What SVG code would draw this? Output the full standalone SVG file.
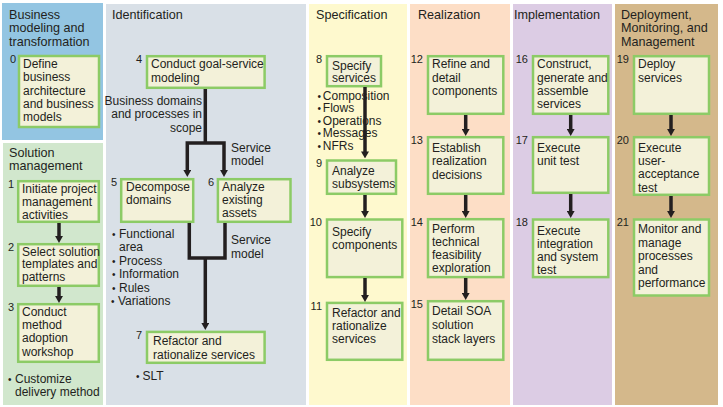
<svg xmlns="http://www.w3.org/2000/svg" width="723" height="407" viewBox="0 0 723 407">
<defs>
<style>
text{font-family:"Liberation Sans",Arial,sans-serif;fill:#231f20}
.t{font-size:12.6px}
.n{font-size:12px}
.num{font-size:11px;text-anchor:end}
.lbl{font-size:12px}
.bu{font-size:10px}
.box{fill:#f3f1d9;stroke:#8ccb66;stroke-width:2.5}
.c{fill:none;stroke:#231f20;stroke-width:3.5;stroke-linejoin:miter}
</style>
<marker id="ah" viewBox="0 0 10 10" refX="3" refY="5" markerWidth="7" markerHeight="8" markerUnits="userSpaceOnUse" preserveAspectRatio="none" orient="auto-start-reverse"><path d="M0,0 L10,5 L0,10 z" fill="#231f20"/></marker>
</defs>
<rect width="723" height="407" fill="#ffffff"/>
<g id="lanes">
<rect x="2" y="3" width="101" height="137" fill="#93c5e2"/>
<rect x="3" y="143" width="100" height="262" fill="#d1e7cd"/>
<rect x="106" y="4" width="200" height="401" fill="#d9e0e7"/>
<rect x="309" y="4" width="98" height="401" fill="#fef9ce"/>
<rect x="410" y="4" width="100" height="401" fill="#fddec6"/>
<rect x="513" y="4" width="99" height="401" fill="#dccce4"/>
<rect x="615" y="4" width="103" height="401" fill="#d4b88b"/>
<text class="t"><tspan x="9" y="18.5">Business</tspan><tspan x="9" y="32.2">modeling and</tspan><tspan x="9" y="46">transformation</tspan></text>
<text class="t"><tspan x="9" y="156.5">Solution</tspan><tspan x="9" y="170.2">management</tspan></text>
<text class="t" x="112" y="19">Identification</text>
<text class="t" x="316" y="19">Specification</text>
<text class="t" x="418" y="19">Realization</text>
<text class="t" x="514" y="19">Implementation</text>
<text class="t"><tspan x="621" y="18.5">Deployment,</tspan><tspan x="621" y="32">Monitoring, and</tspan><tspan x="621" y="45.5">Management</tspan></text>
</g>
<g id="n0"><rect class="box" x="19" y="56" width="80" height="71"/><text class="num" x="16" y="63">0</text>
<text class="n"><tspan x="23" y="68">Define</tspan><tspan x="23" y="81.3">business</tspan><tspan x="23" y="94.6">architecture</tspan><tspan x="23" y="107.9">and business</tspan><tspan x="23" y="121">models</tspan></text></g>
<g id="n1"><rect class="box" x="18.2" y="181.2" width="80.6" height="40.6"/><text class="num" x="14" y="188">1</text>
<text class="n"><tspan x="22" y="193.3">Initiate project</tspan><tspan x="22" y="206.3">management</tspan><tspan x="22" y="219.3">activities</tspan></text></g>
<g id="n2"><rect class="box" x="18.2" y="244.2" width="80.6" height="41.6"/><text class="num" x="14" y="251">2</text>
<text class="n"><tspan x="22" y="255.5">Select solution</tspan><tspan x="22" y="268.3">templates and</tspan><tspan x="22" y="281">patterns</tspan></text></g>
<g id="n3"><rect class="box" x="18.2" y="304.2" width="80.6" height="57.6"/><text class="num" x="14" y="311">3</text>
<text class="n"><tspan x="22" y="316">Conduct</tspan><tspan x="22" y="329.2">method</tspan><tspan x="22" y="342.4">adoption</tspan><tspan x="22" y="355.6">workshop</tspan></text></g>
<g id="b0"><text class="lbl" x="8" y="382.7"><tspan class="bu">•</tspan><tspan x="15">Customize</tspan></text><text class="lbl" x="15" y="395.7">delivery method</text></g>
<g id="n4"><rect class="box" x="147" y="56.2" width="117.6" height="31.6"/><text class="num" x="142" y="63">4</text>
<text class="n"><tspan x="151" y="68.3">Conduct goal-service</tspan><tspan x="151" y="81.7">modeling</tspan></text></g>
<g id="n5"><rect class="box" x="121.2" y="179.2" width="72" height="42.6"/><text class="num" x="117" y="186">5</text>
<text class="n"><tspan x="126" y="190.7">Decompose</tspan><tspan x="126" y="204">domains</tspan></text></g>
<g id="n6"><rect class="box" x="217.9" y="179.2" width="72.6" height="42.6"/><text class="num" x="214" y="186">6</text>
<text class="n"><tspan x="222" y="190.7">Analyze</tspan><tspan x="222" y="204">existing</tspan><tspan x="222" y="217.3">assets</tspan></text></g>
<g id="b5"><text class="lbl" x="112" y="238"><tspan class="bu">•</tspan><tspan x="119">Functional</tspan></text><text class="lbl" x="119" y="251">area</text>
<text class="lbl" x="112" y="264.5"><tspan class="bu">•</tspan><tspan x="119">Process</tspan></text>
<text class="lbl" x="112" y="278"><tspan class="bu">•</tspan><tspan x="119">Information</tspan></text>
<text class="lbl" x="112" y="291.5"><tspan class="bu">•</tspan><tspan x="119">Rules</tspan></text>
<text class="lbl" x="111" y="305"><tspan class="bu">•</tspan><tspan x="118">Variations</tspan></text></g>
<g id="n7"><rect class="box" x="147" y="331.9" width="117.6" height="30.9"/><text class="num" x="142" y="339">7</text>
<text class="n"><tspan x="153" y="345">Refactor and</tspan><tspan x="153" y="358.7">rationalize services</tspan></text></g>
<g id="b7"><text class="lbl" x="136" y="380"><tspan class="bu">•</tspan><tspan x="142.5">SLT</tspan></text></g>
<g id="lab"><text class="lbl" text-anchor="end"><tspan x="202" y="104.5">Business domains</tspan><tspan x="202" y="118.3">and processes in</tspan><tspan x="202" y="132">scope</tspan></text>
<text class="lbl"><tspan x="231" y="151.5">Service</tspan><tspan x="231" y="165">model</tspan></text>
<text class="lbl"><tspan x="231" y="244.3">Service</tspan><tspan x="231" y="257.7">model</tspan></text></g>
<g id="n8"><rect class="box" x="327" y="56.2" width="54" height="30"/><text class="num" x="322" y="63">8</text>
<text class="n"><tspan x="332" y="69.5">Specify</tspan><tspan x="332" y="82">services</tspan></text></g>
<g id="b8"><text class="lbl" x="317.5" y="99.5"><tspan class="bu">•</tspan><tspan x="322.8">Composition</tspan></text>
<text class="lbl" x="317.5" y="112"><tspan class="bu">•</tspan><tspan x="322.8">Flows</tspan></text>
<text class="lbl" x="317.5" y="124.5"><tspan class="bu">•</tspan><tspan x="322.8">Operations</tspan></text>
<text class="lbl" x="317.5" y="137"><tspan class="bu">•</tspan><tspan x="322.8">Messages</tspan></text>
<text class="lbl" x="317.5" y="149.5"><tspan class="bu">•</tspan><tspan x="322.8">NFRs</tspan></text></g>
<g id="n9"><rect class="box" x="327" y="160.5" width="69" height="33.3"/><text class="num" x="322" y="167">9</text>
<text class="n"><tspan x="332" y="174.5">Analyze</tspan><tspan x="332" y="187.7">subsystems</tspan></text></g>
<g id="n10"><rect class="box" x="327" y="219.5" width="75.3" height="57.6"/><text class="num" x="322" y="226">10</text>
<text class="n"><tspan x="332" y="235.7">Specify</tspan><tspan x="332" y="248.5">components</tspan></text></g>
<g id="n11"><rect class="box" x="327" y="302.9" width="75.3" height="56.9"/><text class="num" x="322" y="309.5">11</text>
<text class="n"><tspan x="332" y="317">Refactor and</tspan><tspan x="332" y="330.2">rationalize</tspan><tspan x="332" y="343.4">services</tspan></text></g>
<g id="n12"><rect class="box" x="428" y="56.2" width="75.3" height="57.6"/><text class="num" x="423" y="63">12</text>
<text class="n"><tspan x="432" y="68.3">Refine and</tspan><tspan x="432" y="81.5">detail</tspan><tspan x="432" y="94.7">components</tspan></text></g>
<g id="n13"><rect class="box" x="428" y="137.2" width="75.3" height="56.6"/><text class="num" x="423" y="144">13</text>
<text class="n"><tspan x="432" y="151.5">Establish</tspan><tspan x="432" y="165">realization</tspan><tspan x="432" y="178.5">decisions</tspan></text></g>
<g id="n14"><rect class="box" x="428" y="219.2" width="75.3" height="57.9"/><text class="num" x="423" y="226">14</text>
<text class="n"><tspan x="432" y="232.5">Perform</tspan><tspan x="432" y="245.7">technical</tspan><tspan x="432" y="258.9">feasibility</tspan><tspan x="432" y="272.1">exploration</tspan></text></g>
<g id="n15"><rect class="box" x="428" y="301.2" width="75.3" height="58.6"/><text class="num" x="423" y="308">15</text>
<text class="n"><tspan x="432" y="315">Detail SOA</tspan><tspan x="432" y="328.8">solution</tspan><tspan x="432" y="342.5">stack layers</tspan></text></g>
<g id="n16"><rect class="box" x="533" y="56.2" width="75.3" height="57.6"/><text class="num" x="528" y="63">16</text>
<text class="n"><tspan x="537" y="68.3">Construct,</tspan><tspan x="537" y="81.6">generate and</tspan><tspan x="537" y="94.9">assemble</tspan><tspan x="537" y="108.2">services</tspan></text></g>
<g id="n17"><rect class="box" x="533" y="137.2" width="75.3" height="55.6"/><text class="num" x="528" y="144">17</text>
<text class="n"><tspan x="537" y="151.7">Execute</tspan><tspan x="537" y="165">unit test</tspan></text></g>
<g id="n18"><rect class="box" x="533" y="219.5" width="75.3" height="57.6"/><text class="num" x="528" y="226">18</text>
<text class="n"><tspan x="537" y="235">Execute</tspan><tspan x="537" y="248">integration</tspan><tspan x="537" y="261">and system</tspan><tspan x="537" y="274">test</tspan></text></g>
<g id="n19"><rect class="box" x="634" y="56.2" width="75" height="57.6"/><text class="num" x="629" y="63">19</text>
<text class="n"><tspan x="638" y="68.3">Deploy</tspan><tspan x="638" y="81.7">services</tspan></text></g>
<g id="n20"><rect class="box" x="634" y="137.2" width="75" height="57.6"/><text class="num" x="629" y="144">20</text>
<text class="n"><tspan x="638" y="151.7">Execute</tspan><tspan x="638" y="165">user-</tspan><tspan x="638" y="178.3">acceptance</tspan><tspan x="638" y="191.6">test</tspan></text></g>
<g id="n21"><rect class="box" x="634" y="219.5" width="75" height="76"/><text class="num" x="629" y="226">21</text>
<text class="n"><tspan x="638" y="233.3">Monitor and</tspan><tspan x="638" y="246.8">manage</tspan><tspan x="638" y="260.3">processes</tspan><tspan x="638" y="273.8">and</tspan><tspan x="638" y="287.3">performance</tspan></text></g>
<g id="connectors">
<path class="c" d="M59,223 V238" marker-end="url(#ah)"/>
<path class="c" d="M59,287 V298" marker-end="url(#ah)"/>
<path class="c" d="M205.3,89 V143"/>
<path class="c" d="M187.3,172 V143 H224 V172" marker-start="url(#ah)" marker-end="url(#ah)"/>
<path class="c" d="M189.3,223 V258 H225 V223"/>
<path class="c" d="M205.3,258 V325" marker-end="url(#ah)"/>
<path class="c" d="M365,87 V153.5" marker-end="url(#ah)"/>
<path class="c" d="M365,195 V213" marker-end="url(#ah)"/>
<path class="c" d="M365,278 V297" marker-end="url(#ah)"/>
<path class="c" d="M465.7,115 V131" marker-end="url(#ah)"/>
<path class="c" d="M465.7,195 V213" marker-end="url(#ah)"/>
<path class="c" d="M465.7,278 V295" marker-end="url(#ah)"/>
<path class="c" d="M570.7,115 V131" marker-end="url(#ah)"/>
<path class="c" d="M570.7,194 V213" marker-end="url(#ah)"/>
<path class="c" d="M671,115 V131" marker-end="url(#ah)"/>
<path class="c" d="M671,196 V213" marker-end="url(#ah)"/>
</g>
</svg>
